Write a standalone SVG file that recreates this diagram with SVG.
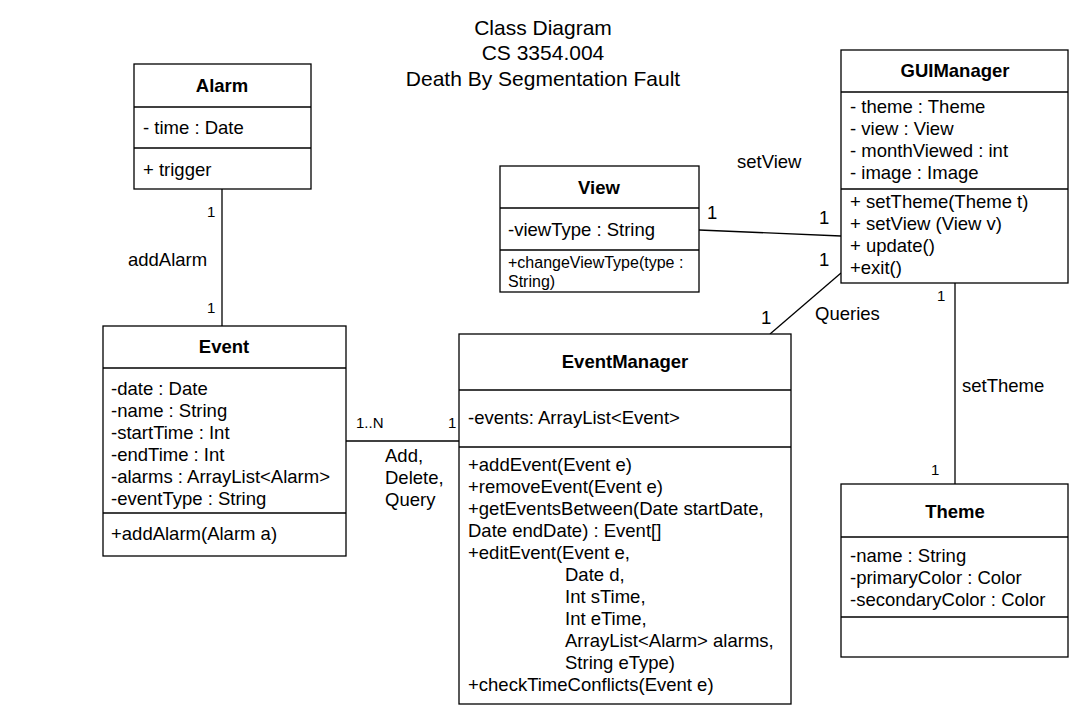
<svg xmlns="http://www.w3.org/2000/svg" width="1091" height="708" viewBox="0 0 1091 708">
<style>
text{font-family:"Liberation Sans",Arial,sans-serif;fill:#000;font-size:18.5px}
.t{font-weight:bold;text-anchor:middle}
.s{font-size:15px}
.m{font-size:16px}
.h{font-size:21px;text-anchor:middle}
rect{fill:#fff;stroke:#000;stroke-width:1.3}
line{stroke:#000;stroke-width:1.3}
</style>
<rect x="0" y="0" width="1091" height="708" style="stroke:none"/>
<g id="title">
<text class="h" x="543" y="35">Class Diagram</text>
<text class="h" x="543" y="60">CS 3354.004</text>
<text class="h" x="543" y="86">Death By Segmentation Fault</text>
</g>
<g id="connectors">
<line x1="222" y1="189" x2="222" y2="326"/>
<line x1="699" y1="230" x2="841" y2="236"/>
<line x1="841" y1="273" x2="770" y2="334"/>
<line x1="346" y1="441" x2="459" y2="441"/>
<line x1="955" y1="283" x2="955" y2="484"/>
<text x="207" y="217" class="s">1</text>
<text x="128" y="266">addAlarm</text>
<text x="207" y="313" class="s">1</text>
<text x="707" y="219">1</text>
<text x="819" y="224">1</text>
<text x="819" y="266">1</text>
<text x="761" y="324">1</text>
<text x="815" y="320">Queries</text>
<text x="737" y="168">setView</text>
<text x="962" y="392">setTheme</text>
<text x="937" y="301" class="s">1</text>
<text x="931" y="475" class="s">1</text>
<text x="356" y="428" class="s">1..N</text>
<text x="448" y="428" class="s">1</text>
<text x="385" y="462">Add,</text>
<text x="385" y="484">Delete,</text>
<text x="385" y="506">Query</text>
</g>
<g id="Alarm">
<rect x="134" y="64" width="177" height="125"/>
<line x1="134" y1="107" x2="311" y2="107"/>
<line x1="134" y1="148" x2="311" y2="148"/>
<text class="t" x="222" y="92">Alarm</text>
<text x="143" y="134">- time : Date</text>
<text x="143" y="176">+ trigger</text>
</g>
<g id="View">
<rect x="500" y="166" width="199" height="126"/>
<line x1="500" y1="208" x2="699" y2="208"/>
<line x1="500" y1="250" x2="699" y2="250"/>
<text class="t" x="599" y="194">View</text>
<text x="508" y="236">-viewType : String</text>
<text class="m" x="508" y="268">+changeViewType(type :</text>
<text class="m" x="508" y="287">String)</text>
</g>
<g id="GUIManager">
<rect x="841" y="50" width="227" height="233"/>
<line x1="841" y1="92" x2="1068" y2="92"/>
<line x1="841" y1="189" x2="1068" y2="189"/>
<text class="t" x="955" y="77">GUIManager</text>
<text x="850" y="113">- theme : Theme</text>
<text x="850" y="135">- view : View</text>
<text x="850" y="157">- monthViewed : int</text>
<text x="850" y="179">- image : Image</text>
<text x="850" y="208">+ setTheme(Theme t)</text>
<text x="850" y="230">+ setView (View v)</text>
<text x="850" y="252">+ update()</text>
<text x="850" y="274">+exit()</text>
</g>
<g id="Event">
<rect x="103" y="326" width="243" height="230"/>
<line x1="103" y1="368" x2="346" y2="368"/>
<line x1="103" y1="513" x2="346" y2="513"/>
<text class="t" x="224" y="353">Event</text>
<text x="111" y="395">-date : Date</text>
<text x="111" y="417">-name : String</text>
<text x="111" y="439">-startTime : Int</text>
<text x="111" y="461">-endTime : Int</text>
<text x="111" y="483">-alarms : ArrayList&lt;Alarm&gt;</text>
<text x="111" y="505">-eventType : String</text>
<text x="111" y="540">+addAlarm(Alarm a)</text>
</g>
<g id="EventManager">
<rect x="459" y="334" width="332" height="370"/>
<line x1="459" y1="390" x2="791" y2="390"/>
<line x1="459" y1="447" x2="791" y2="447"/>
<text class="t" x="625" y="368">EventManager</text>
<text x="468" y="424">-events: ArrayList&lt;Event&gt;</text>
<text x="468" y="471">+addEvent(Event e)</text>
<text x="468" y="493">+removeEvent(Event e)</text>
<text x="468" y="515">+getEventsBetween(Date startDate,</text>
<text x="468" y="537">Date endDate) : Event[]</text>
<text x="468" y="559">+editEvent(Event e,</text>
<text x="565" y="581">Date d,</text>
<text x="565" y="603">Int sTime,</text>
<text x="565" y="625">Int eTime,</text>
<text x="565" y="647">ArrayList&lt;Alarm&gt; alarms,</text>
<text x="565" y="669">String eType)</text>
<text x="468" y="691">+checkTimeConflicts(Event e)</text>
</g>
<g id="Theme">
<rect x="841" y="484" width="227" height="173"/>
<line x1="841" y1="537" x2="1068" y2="537"/>
<line x1="841" y1="617" x2="1068" y2="617"/>
<text class="t" x="955" y="518">Theme</text>
<text x="850" y="562">-name : String</text>
<text x="850" y="584">-primaryColor : Color</text>
<text x="850" y="606">-secondaryColor : Color</text>
</g>
</svg>
